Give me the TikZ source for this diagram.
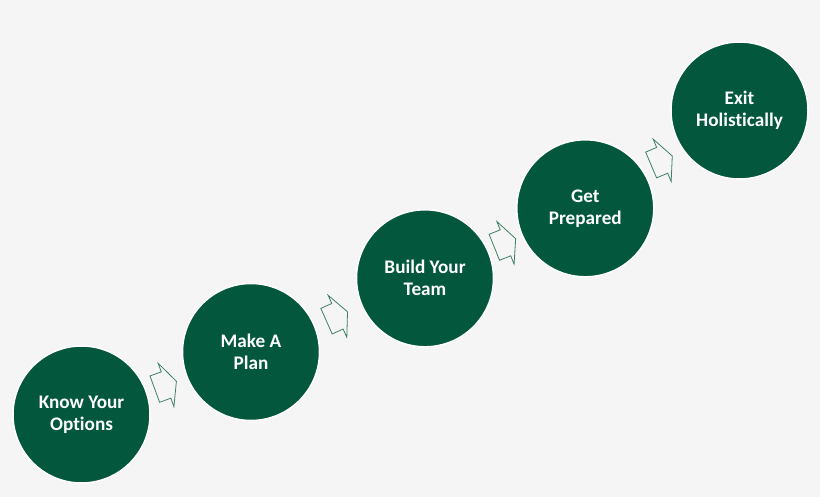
\documentclass[tikz,border=0pt]{standalone}
\usepackage{fontspec}
\setmainfont{Carlito}[Ligatures={NoCommon,NoRare}]
\definecolor{bgc}{HTML}{F5F5F5}
\definecolor{dgreen}{HTML}{03573D}
\definecolor{agreen}{HTML}{3F7F63}
\begin{document}
\begin{tikzpicture}[x=1pt,y=-1pt,
  stepcircle/.style={circle, fill=dgreen, draw=white, line width=1.5pt,
    minimum size=137pt, inner sep=0pt, align=center, text=white,
    font=\fontsize{19.2}{22}\selectfont\bfseries},
  blockarrow/.style={draw=agreen, line width=0.8pt, fill=bgc, line join=miter}]
\fill[bgc] (0,0) rectangle (820,497);
\useasboundingbox (0,0) rectangle (820,497);
\node[stepcircle] (c1) at (81.5,414.5) {\raisebox{-1.5pt}{\parbox{130pt}{\centering Know Your\\Options}}};
\node[stepcircle] (c2) at (251,352) {\raisebox{-1.5pt}{\parbox{130pt}{\centering Make A\\Plan}}};
\node[stepcircle] (c3) at (425,278.3) {\raisebox{-1.5pt}{\parbox{130pt}{\centering Build Your\\Team}}};
\node[stepcircle] (c4) at (585.3,208.3) {\raisebox{-1.5pt}{\parbox{130pt}{\centering Get\\Prepared}}};
\node[stepcircle] (c5) at (739.5,110.5) {\raisebox{-1.5pt}{\parbox{130pt}{\centering Exit\\Holistically}}};
\foreach \px/\py/\ang in {165.6/385.2/20, 337/316.5/24, 505/243/22, 661.7/160.5/23}{
  \begin{scope}[shift={(\px,\py)}, rotate=\ang]
    \draw[blockarrow] (-11.5,-14) -- (0.5,-14) -- (0.5,-23) -- (11.5,0) -- (0.5,23) -- (0.5,14) -- (-11.5,14) -- cycle;
  \end{scope}
}
\end{tikzpicture}
\end{document}
